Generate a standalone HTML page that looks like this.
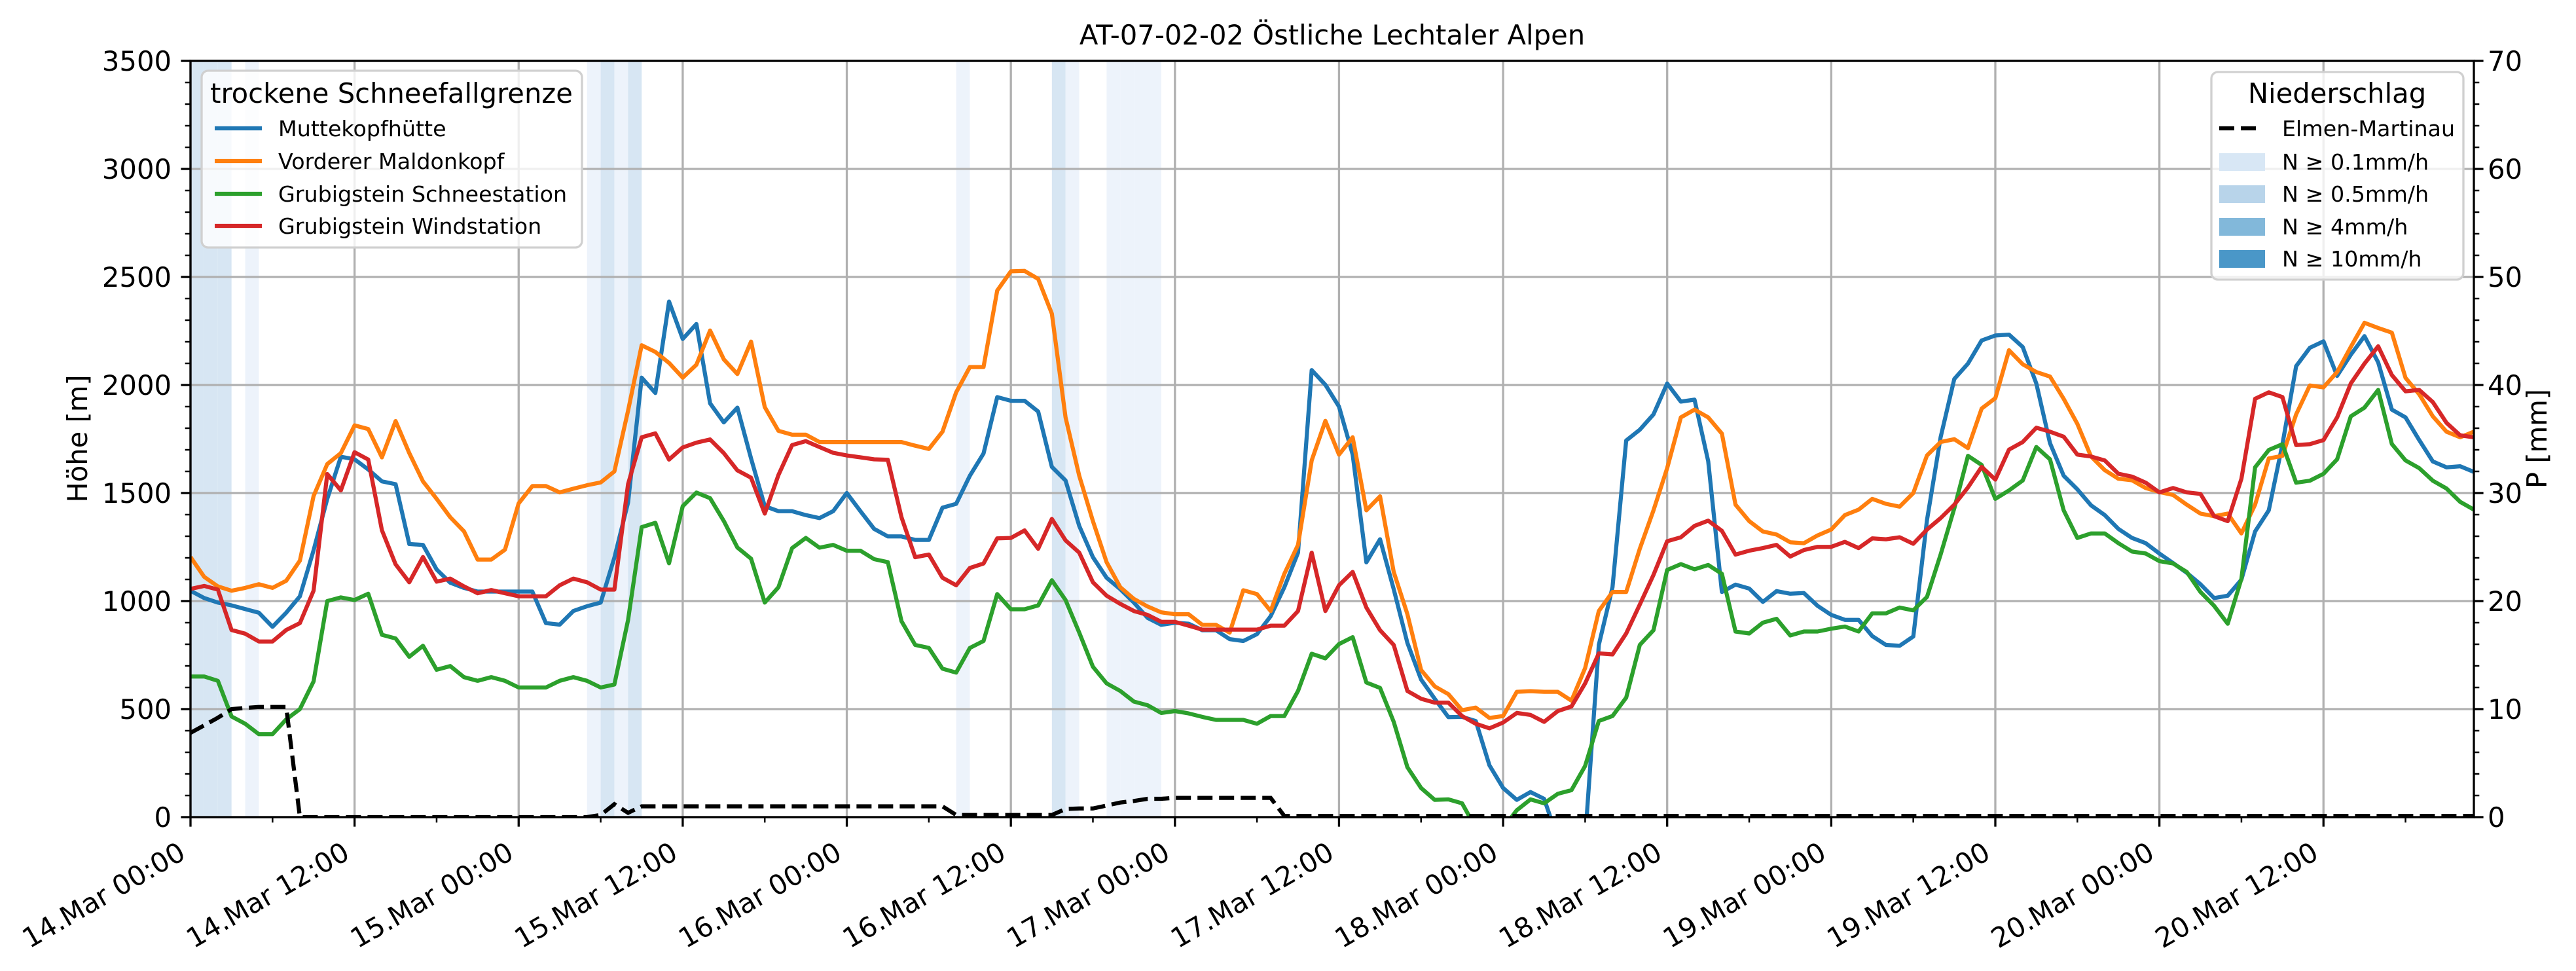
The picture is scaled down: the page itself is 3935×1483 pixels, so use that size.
<!DOCTYPE html>
<html><head><meta charset="utf-8"><style>
html,body{margin:0;padding:0;background:#fff;}
svg{display:block;font-family:"DejaVu Sans","Liberation Sans",sans-serif;}
</style></head><body>
<svg id="chart" xmlns="http://www.w3.org/2000/svg" width="3935" height="1483" viewBox="0 0 3935 1483">
<defs><clipPath id="plotclip"><rect x="291" y="93" width="3488" height="1155"/></clipPath></defs>
<rect x="0" y="0" width="3935" height="1483" fill="#fff"/>
<text x="2035" y="68" font-size="41.7" text-anchor="middle">AT-07-02-02 Östliche Lechtaler Alpen</text>
<g id="bands" clip-path="url(#plotclip)"></g>
<g id="grid"></g>
<g id="series" clip-path="url(#plotclip)"></g>
<g id="axes"></g>
<text transform="translate(133,670) rotate(-90)" font-size="41.7" text-anchor="middle">Höhe [m]</text>
<text transform="translate(3890,670) rotate(-90)" font-size="41.7" text-anchor="middle">P [mm]</text>

<g>
<rect x="308" y="108" width="581" height="270" rx="10" fill="#fff" fill-opacity="0.8" stroke="#d0d0d0" stroke-width="3.3"/>
<text x="598" y="157" font-size="41.7" text-anchor="middle">trockene Schneefallgrenze</text>
<g><line x1="328" y1="196" x2="400" y2="196" stroke="#1f77b4" stroke-width="6.25"/><text x="425" y="208" font-size="33.3">Muttekopfhütte</text></g>
<g><line x1="328" y1="246" x2="400" y2="246" stroke="#ff7f0e" stroke-width="6.25"/><text x="425" y="258" font-size="33.3">Vorderer Maldonkopf</text></g>
<g><line x1="328" y1="296" x2="400" y2="296" stroke="#2ca02c" stroke-width="6.25"/><text x="425" y="308" font-size="33.3">Grubigstein Schneestation</text></g>
<g><line x1="328" y1="345" x2="400" y2="345" stroke="#d62728" stroke-width="6.25"/><text x="425" y="357" font-size="33.3">Grubigstein Windstation</text></g>
</g>

<g>
<rect x="3378" y="110" width="385" height="317" rx="10" fill="#fff" fill-opacity="0.8" stroke="#d0d0d0" stroke-width="3.3"/>
<text x="3570" y="157" font-size="41.7" text-anchor="middle">Niederschlag</text>
<g><line x1="3390" y1="196" x2="3450" y2="196" stroke="#000" stroke-width="6.25" stroke-dasharray="23,10"/><text x="3486" y="208" font-size="33.3">Elmen-Martinau</text></g>
<g><rect x="3390" y="234" width="70" height="27" fill="#d8e7f5"/><text x="3486" y="259" font-size="33.3">N ≥ 0.1mm/h</text></g>
<g><rect x="3390" y="283" width="70" height="27" fill="#b8d4ea"/><text x="3486" y="308" font-size="33.3">N ≥ 0.5mm/h</text></g>
<g><rect x="3390" y="333" width="70" height="27" fill="#82b8da"/><text x="3486" y="358" font-size="33.3">N ≥ 4mm/h</text></g>
<g><rect x="3390" y="382" width="70" height="27" fill="#4a97c8"/><text x="3486" y="407" font-size="33.3">N ≥ 10mm/h</text></g>
</g>
</svg>
<script>
const xTickLabels = ["14.Mar 00:00","14.Mar 12:00","15.Mar 00:00","15.Mar 12:00","16.Mar 00:00","16.Mar 12:00","17.Mar 00:00","17.Mar 12:00","18.Mar 00:00","18.Mar 12:00","19.Mar 00:00","19.Mar 12:00","20.Mar 00:00","20.Mar 12:00"];
const yTicks = [0,500,1000,1500,2000,2500,3000,3500];
const y2Ticks = [0,10,20,30,40,50,60,70];
const muttekopf = [1048,1014,993,980,963,946,881,946,1022,1235,1473,1668,1656,1609,1554,1541,1264,1260,1146,1085,1061,1044,1044,1044,1044,1044,898,891,954,976,993,1201,1456,2034,1963,2386,2213,2282,1915,1827,1895,1660,1439,
1416,1416,1398,1384,1416,1500,1416,1334,1299,1299,1283,1283,1432,1450,1580,1683,1944,1927,1927,1877,1621,1558,1348,1203,1108,1055,993,922,890,900,895,865,865,824,815,847,930,1064,1224,2069,2001,1900,
1678,1179,1286,1055,806,637,548,463,464,445,240,135,80,116,85,-100,-100,-100,797,1064,1743,1793,1864,2007,1923,1932,1647,1042,1076,1058,996,1046,1034,1037,978,936,913,913,838,797,793,
836,1375,1758,2028,2099,2206,2229,2233,2176,2007,1731,1580,1517,1443,1398,1334,1292,1268,1220,1176,1131,1078,1014,1025,1099,1322,1420,1726,2087,2172,2202,2042,2140,2226,2105,1886,1850,1745,1646,1619,1624,1598];
const maldonkopf = [1204,1112,1068,1048,1061,1078,1061,1094,1187,1486,1634,1685,1813,1796,1665,1833,1685,1554,1473,1388,1323,1192,1192,1238,1452,1532,1532,1503,1520,1536,1549,1600,1881,2184,2153,2102,2034,2094,2252,2119,2051,2201,1898,
1788,1770,1770,1736,1736,1736,1736,1736,1736,1736,1719,1704,1784,1966,2083,2083,2437,2526,2528,2491,2330,1850,1580,1370,1180,1064,1010,975,948,939,939,890,890,854,1050,1032,954,1126,1260,1651,1834,1678,
1758,1420,1485,1135,939,681,605,569,495,507,459,468,580,583,580,580,539,690,954,1042,1042,1242,1420,1615,1850,1886,1850,1775,1446,1370,1322,1308,1272,1268,1304,1331,1398,1423,1473,1450,1437,
1500,1674,1736,1749,1708,1891,1939,2161,2096,2060,2039,1936,1820,1669,1606,1566,1559,1523,1505,1491,1446,1405,1393,1405,1313,1446,1660,1672,1864,1998,1989,2060,2176,2288,2264,2242,2033,1957,1855,1784,1758,1784];
const schneestation = [651,651,631,466,432,384,384,452,500,628,1000,1017,1005,1034,844,827,742,793,682,699,648,631,648,631,600,600,600,631,648,631,600,614,912,1342,1362,1175,1439,1502,1476,1371,1248,1196,993,
1064,1245,1292,1247,1260,1233,1233,1194,1180,907,797,783,687,669,783,815,1032,962,962,980,1096,1005,854,696,619,584,535,518,482,491,480,464,450,450,450,432,468,468,584,756,735,801,
833,623,598,441,231,135,80,82,64,-50,-50,-50,32,82,64,108,125,237,445,468,553,797,865,1144,1171,1147,1167,1126,859,850,900,918,841,859,859,872,882,859,943,943,970,
957,1019,1215,1429,1672,1630,1473,1512,1558,1713,1656,1420,1292,1313,1313,1268,1229,1220,1185,1174,1135,1042,978,895,1103,1619,1699,1726,1548,1557,1589,1656,1855,1895,1977,1727,1651,1615,1557,1521,1459,1423];
const windstation = [1056,1070,1053,866,849,813,813,866,898,1048,1588,1512,1689,1655,1328,1170,1087,1204,1090,1104,1068,1036,1051,1036,1022,1022,1022,1073,1104,1087,1053,1053,1541,1758,1776,1655,1711,1733,1748,1685,1605,1571,1405,
1583,1722,1740,1713,1686,1674,1665,1656,1654,1388,1203,1215,1108,1073,1153,1174,1290,1292,1327,1242,1380,1281,1224,1087,1025,987,954,936,904,904,886,868,868,868,868,868,886,886,954,1224,954,1073,
1135,970,865,797,584,548,530,530,468,432,411,438,482,473,441,491,512,619,758,753,850,984,1121,1277,1295,1348,1372,1325,1215,1233,1245,1260,1206,1236,1251,1251,1274,1245,1290,1286,1295,
1265,1331,1384,1446,1526,1621,1562,1701,1736,1802,1784,1761,1678,1669,1651,1589,1576,1548,1503,1523,1503,1496,1393,1370,1566,1936,1966,1944,1722,1726,1745,1850,2007,2099,2179,2046,1971,1977,1921,1825,1767,1758];
const precip = [7.8,8.5,9.2,10.0,10.1,10.2,10.2,10.2,
0,0,0,0,0,0,0,0,0,0,0,0,0,0,0,0,0,0,0,0,0,0,
0.2,1.2,0.4,
1,1,1,1,1,1,1,1,1,1,1,1,1,1,1,1,1,1,1,1,1,1,1,
0.2,0.2,0.2,0.2,0.2,0.2,0.2,0.2,
0.75,0.8,0.8,1.07,1.35,1.5,1.7,1.7,
1.78,1.78,1.78,1.78,1.78,1.78,1.78,1.78,
0.1,0.1,0.1,0.1,0.1,0.1,0.1,0.1,0.1,0.1,0.1,0.1,0.1,0.1,0.1,0.1,0.1,0.1,0.1,0.1,0.1,0.1,
0.1,0.1,0.1,0.1,0.1,0.1,0.1,0.1,0.1,0.1,0.1,0.1,0.1,0.1,0.1,0.1,0.1,0.1,0.1,0.1,0.1,0.1,
0.1,0.1,0.1,0.1,0.1,0.1,0.1,0.1,0.1,0.1,0.1,0.1,0.1,0.1,0.1,0.1,0.1,0.1,0.1,0.1,0.1,0.1,
0.1,0.1,0.1,0.1,0.1,0.1,0.1,0.1,0.1,0.1,0.1,0.1,0.1,0.1,0.1,0.1,0.1,0.1,0.1,0.1,0.1,0.1];
const bandHours = [0,1,2,4,29,30,31,32,56,63,64,67,68,69,70];
const bandLevels = [0.5,0.5,0.5,0.1,0.1,0.5,0.1,0.5,0.1,0.5,0.1,0.1,0.1,0.1,0.1];

const NS='http://www.w3.org/2000/svg';
const L=291,R=3779,T=93,B=1248,HMAX=167;
const xs=h=>L+h*(R-L)/HMAX;
const ys=v=>B-v*(B-T)/3500;
const yp=p=>B-p*(B-T)/70;
function mk(tag,attrs,parent){const e=document.createElementNS(NS,tag);for(const k in attrs)e.setAttribute(k,attrs[k]);parent.appendChild(e);return e;}
const gB=document.getElementById('bands'),gG=document.getElementById('grid'),gS=document.getElementById('series'),gA=document.getElementById('axes');

bandHours.forEach((h,i)=>{
  const r=mk('rect',{x:xs(h),y:T,width:xs(h+1)-xs(h),height:B-T,fill:bandLevels[i]>=0.5?'#d7e6f3':'#edf3fb'},gB);
  
  
});
xTickLabels.forEach((lab,i)=>{const x=xs(i*12);
  const g=mk('line',{x1:x,y1:T,x2:x,y2:B,stroke:'#b0b0b0','stroke-width':3.3},gG);
  
  
});
yTicks.forEach(v=>{const y=ys(v);
  const g=mk('line',{x1:L,y1:y,x2:R,y2:y,stroke:'#b0b0b0','stroke-width':3.3},gG);
  
  
});
function path(vals,fn){return vals.map((v,i)=>(i?'L':'M')+xs(i).toFixed(1)+','+fn(v).toFixed(1)).join('');}
const series=[[muttekopf,'#1f77b4','line-muttekopfhuette'],[maldonkopf,'#ff7f0e','line-vorderer-maldonkopf'],[schneestation,'#2ca02c','line-grubigstein-schneestation'],[windstation,'#d62728','line-grubigstein-windstation']];
series.forEach(s=>{
  const p=mk('path',{d:path(s[0],ys),fill:'none',stroke:s[1],'stroke-width':6.25,'stroke-linejoin':'round'},gS);
  
  
});
const pp=mk('path',{d:path(precip,yp),fill:'none',stroke:'#000','stroke-width':6.25,'stroke-dasharray':'23,10'},gS);


const sp=mk('rect',{x:L,y:T,width:R-L,height:B-T,fill:'none',stroke:'#000','stroke-width':3.3},gA);


for(let h=0;h<=HMAX;h+=6){const x=xs(h);const major=h%12===0;
  mk('line',{x1:x,y1:B,x2:x,y2:B+(major?14.6:8.3),stroke:'#000','stroke-width':major?3.3:2.5},gA);}
xTickLabels.forEach((lab,i)=>{const x=xs(i*12)-5,y=1310;
  const t=mk('text',{x:x,y:y,'font-size':41.7,'text-anchor':'end',transform:`rotate(-30 ${x} ${y})`},gA);
  t.textContent=lab;
  
  
});
for(let v=0;v<=3500;v+=100){const y=ys(v);const major=v%500===0;
  mk('line',{x1:L,y1:y,x2:L-(major?14.6:8.3),y2:y,stroke:'#000','stroke-width':major?3.3:2.5},gA);}
yTicks.forEach(v=>{const t=mk('text',{x:262,y:ys(v)+15,'font-size':41.7,'text-anchor':'end'},gA);
  t.textContent=v;
  
  
});
for(let p=0;p<=70;p+=2){const y=yp(p);const major=p%10===0;
  mk('line',{x1:R,y1:y,x2:R+(major?14.6:8.3),y2:y,stroke:'#000','stroke-width':major?3.3:2.5},gA);}
y2Ticks.forEach(p=>{const t=mk('text',{x:3800,y:yp(p)+15,'font-size':41.7,'text-anchor':'start'},gA);
  t.textContent=p;
  
  
});
</script>
</body></html>
